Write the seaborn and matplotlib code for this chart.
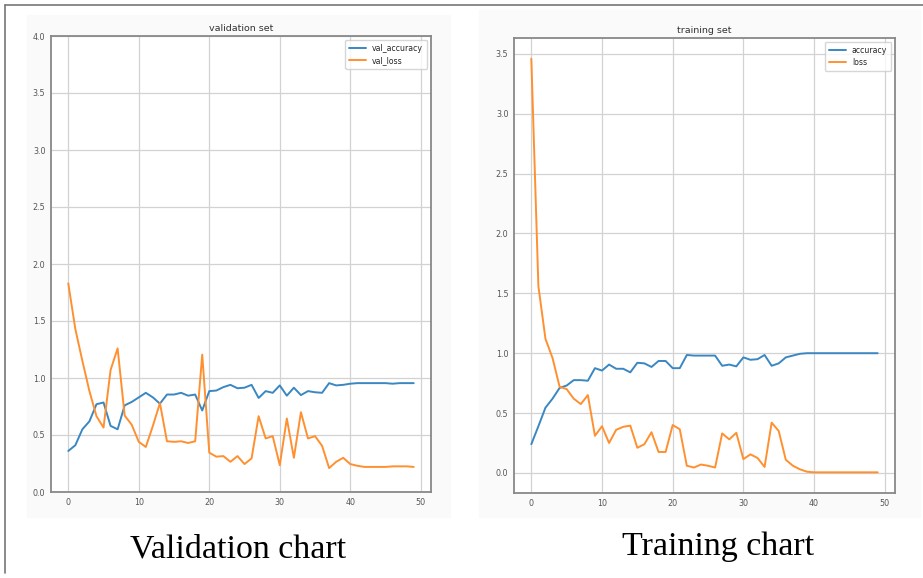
import numpy as np
import pandas as pd
import matplotlib
matplotlib.use("Agg")
import matplotlib.pyplot as plt
from matplotlib.lines import Line2D
from matplotlib.patches import Rectangle
import seaborn as sns

# values (50 epochs)
epochs = list(range(50))

val_accuracy = [0.36, 0.41, 0.55, 0.62, 0.77, 0.785, 0.58, 0.55, 0.76, 0.79,
                0.83, 0.87, 0.83, 0.775, 0.855, 0.855, 0.87, 0.845, 0.855, 0.715,
                0.885, 0.89, 0.92, 0.94, 0.91, 0.915, 0.94, 0.825, 0.885, 0.87,
                0.935, 0.845, 0.915, 0.85, 0.885, 0.875, 0.87, 0.955, 0.935, 0.94,
                0.95, 0.955, 0.955, 0.955, 0.955, 0.955, 0.95, 0.955, 0.955, 0.955]
val_loss = [1.83, 1.43, 1.15, 0.885, 0.665, 0.565, 1.07, 1.26, 0.67, 0.59,
            0.44, 0.395, 0.58, 0.78, 0.445, 0.44, 0.445, 0.43, 0.445, 1.205,
            0.345, 0.31, 0.315, 0.265, 0.315, 0.245, 0.295, 0.665, 0.47, 0.49,
            0.235, 0.645, 0.30, 0.70, 0.47, 0.49, 0.405, 0.21, 0.265, 0.30,
            0.245, 0.23, 0.22, 0.22, 0.22, 0.22, 0.225, 0.225, 0.225, 0.22]

accuracy = [0.24, 0.39, 0.545, 0.62, 0.71, 0.73, 0.775, 0.775, 0.77, 0.875,
            0.855, 0.905, 0.87, 0.87, 0.84, 0.92, 0.915, 0.885, 0.935, 0.935,
            0.875, 0.875, 0.985, 0.98, 0.98, 0.98, 0.98, 0.895, 0.905, 0.89,
            0.965, 0.945, 0.95, 0.985, 0.895, 0.915, 0.965, 0.98, 0.995, 1.0,
            1.0, 1.0, 1.0, 1.0, 1.0, 1.0, 1.0, 1.0, 1.0, 1.0]
loss = [3.46, 1.56, 1.12, 0.96, 0.72, 0.70, 0.62, 0.575, 0.65, 0.31,
        0.39, 0.25, 0.36, 0.385, 0.395, 0.21, 0.24, 0.34, 0.175, 0.175,
        0.40, 0.365, 0.06, 0.045, 0.07, 0.06, 0.045, 0.33, 0.28, 0.335,
        0.115, 0.155, 0.125, 0.05, 0.42, 0.35, 0.11, 0.06, 0.03, 0.01,
        0.005, 0.005, 0.005, 0.005, 0.005, 0.005, 0.005, 0.005, 0.005, 0.005]

sns.set_style("white")
plt.rcParams['font.family'] = ['DejaVu Sans']

blue = '#3a87c2'
orange = '#ff9030'

fig = plt.figure(figsize=(9.23, 5.78), dpi=100)

# faint backgrounds of the pasted chart images + outer frame
fig.add_artist(Rectangle((27/923, 1-517/578), 423/923, 502/578,
                         transform=fig.transFigure, color='#fafafa', zorder=0))
fig.add_artist(Rectangle((479/923, 1-517/578), 441/923, 507/578,
                         transform=fig.transFigure, color='#fafafa', zorder=0))
fig.add_artist(Line2D([5/923, 1], [1-5/578, 1-5/578], transform=fig.transFigure,
                      color='#777777', lw=1.2))
fig.add_artist(Line2D([5/923, 5/923], [1-5/578, 1-573/578], transform=fig.transFigure,
                      color='#777777', lw=1.2))


def draw_history(ax, acc, ls, names, title):
    df = pd.DataFrame({'epoch': epochs, names[0]: acc, names[1]: ls})
    sns.lineplot(data=df, x='epoch', y=names[0], ax=ax, color=blue, lw=1.4, label=names[0])
    sns.lineplot(data=df, x='epoch', y=names[1], ax=ax, color=orange, lw=1.4, label=names[1])
    ax.set_facecolor('white')
    ax.set_xlabel('')
    ax.set_ylabel('')
    ax.set_title(title, fontsize=6.8, color='#333333', pad=3.5)
    ax.set_xticks([0, 10, 20, 30, 40, 50])
    ax.grid(True, color='#d2d2d2', lw=0.9)
    ax.tick_params(labelsize=5.8, length=2, width=0.6, colors='#555555', pad=2)
    for s in ax.spines.values():
        s.set_color('#888888')
        s.set_linewidth(1.3)
    ax.legend(loc='upper right', fontsize=5.6, frameon=True, handlelength=2.2,
              borderpad=0.5, labelspacing=0.4)


ax1 = fig.add_axes([51/923, 1-492/578, 380/923, 456/578])
draw_history(ax1, val_accuracy, val_loss, ['val_accuracy', 'val_loss'], 'validation set')
ax1.set_ylim(0, 4)
ax1.set_yticks([0, 0.5, 1, 1.5, 2, 2.5, 3, 3.5, 4])

ax2 = fig.add_axes([514/923, 1-493/578, 381/923, 455/578])
draw_history(ax2, accuracy, loss, ['accuracy', 'loss'], 'training set')
ax2.set_yticks([0, 0.5, 1, 1.5, 2, 2.5, 3, 3.5])

for a in (ax1, ax2):
    a.set_yticklabels([f'{t:.1f}' for t in a.get_yticks()])

fig.text(238/923, 1-549/578, 'Validation chart', family='Liberation Serif',
         fontsize=24.5, ha='center', va='center', color='black')
fig.text(718/923, 1-547/578, 'Training chart', family='Liberation Serif',
         fontsize=24.5, ha='center', va='center', color='black')

fig.savefig('out.png', dpi=100)
